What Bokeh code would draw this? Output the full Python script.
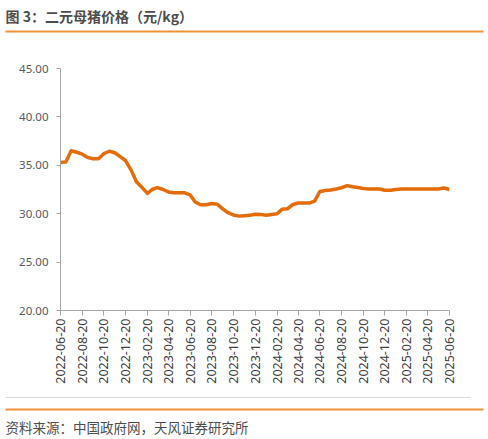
import math
import pandas as pd
from bokeh.plotting import figure
from bokeh.layouts import column, row
from bokeh.models import Range1d, FixedTicker, DatetimeTickFormatter, NumeralTickFormatter
from bokeh.core.properties import value
from bokeh.embed import file_html
from bokeh.resources import INLINE

# data: semi-monthly (5th / 20th) price of binary sows, yuan/kg
TITLE = "图 3：二元母猪价格（元/kg）"
SOURCE = "资料来源：中国政府网，天风证券研究所"
START = "2022-06-20"
END = "2025-06-20"

VALUES = [
    35.30, 35.35, 36.50, 36.35, 36.15, 35.80, 35.67, 35.67, 36.20, 36.45,
    36.30, 35.90, 35.50, 34.50, 33.30, 32.70, 32.10, 32.50, 32.70, 32.50,
    32.25, 32.16, 32.16, 32.16, 31.95, 31.19, 30.92, 30.92, 31.05, 30.98,
    30.50, 30.10, 29.87, 29.75, 29.80, 29.83, 29.95, 29.93, 29.85, 29.92,
    29.99, 30.45, 30.50, 30.95, 31.10, 31.10, 31.10, 31.30, 32.30, 32.40,
    32.45, 32.55, 32.68, 32.90, 32.78, 32.70, 32.60, 32.55, 32.55, 32.55,
    32.43, 32.43, 32.50, 32.55, 32.55, 32.55, 32.55, 32.55, 32.55, 32.55,
    32.55, 32.65, 32.50,
]

TICK_LABELS = [
    "2022-06-20", "2022-08-20", "2022-10-20", "2022-12-20", "2023-02-20",
    "2023-04-20", "2023-06-20", "2023-08-20", "2023-10-20", "2023-12-20",
    "2024-02-20", "2024-04-20", "2024-06-20", "2024-08-20", "2024-10-20",
    "2024-12-20", "2025-02-20", "2025-04-20", "2025-06-20",
]
Y_TICKS = [20, 25, 30, 35, 40, 45]

# dates of the observations: 5th and 20th of each month
dates = []
for yr in range(2022, 2026):
    for mo in range(1, 13):
        for d in (5, 20):
            t = pd.Timestamp(yr, mo, d)
            if pd.Timestamp(START) <= t <= pd.Timestamp(END):
                dates.append(t)

CJK = "Noto Sans CJK SC"
W = 488
ORANGE = "#F0913A"


def blank(h):
    f = figure(width=W, height=h, x_range=Range1d(0, W), y_range=Range1d(h, 0),
               toolbar_location=None, output_backend="svg", x_axis_location=None,
               y_axis_location=None, min_border=0, outline_line_color=None)
    f.title.visible = False
    f.grid.visible = False
    return f


# header
top = blank(40)
top.text(x=[5], y=[15], text=[TITLE], text_font=value(CJK), text_font_size="14px",
         text_font_style="bold", text_color="#4D4D4D", text_baseline="middle")
top.segment(x0=[5], y0=[31], x1=[483], y1=[31], line_color=ORANGE, line_width=2)

# chart
p = figure(width=W, height=350, x_axis_type="datetime",
           x_range=Range1d(pd.Timestamp(START), pd.Timestamp(END)),
           y_range=Range1d(20, 45), toolbar_location=None, output_backend="svg",
           min_border_left=60, min_border_right=39, min_border_top=28,
           min_border_bottom=80, outline_line_color=None)
p.title.visible = False
p.line(x=dates, y=VALUES, line_color="#E46C0A", line_width=3.5, line_join="round")

p.xgrid.visible = False
p.ygrid.visible = False

p.yaxis.ticker = FixedTicker(ticks=Y_TICKS, minor_ticks=[])
p.yaxis.formatter = NumeralTickFormatter(format="0.00")
p.xaxis.ticker = FixedTicker(ticks=[pd.Timestamp(s).timestamp() * 1000 for s in TICK_LABELS],
                             minor_ticks=[])
fmt = "%Y-%m-%d"
p.xaxis.formatter = DatetimeTickFormatter(days=fmt, months=fmt, years=fmt, hours=fmt,
                                          minutes=fmt, seconds=fmt)
p.xaxis.major_label_orientation = math.pi / 2

for ax in (p.xaxis, p.yaxis):
    ax.axis_line_color = "#A6A6A6"
    ax.major_tick_line_color = "#A6A6A6"
    ax.major_tick_in = 0
    ax.major_label_text_font = "Noto Sans"
p.xaxis.major_label_text_color = "#404040"
p.yaxis.major_label_text_color = "#595959"
p.xaxis.major_tick_out = 5
p.xaxis.major_label_standoff = 3
p.xaxis.major_label_text_font_size = "12.5px"
p.yaxis.major_tick_out = 4
p.yaxis.major_label_standoff = 8
p.yaxis.major_label_text_font_size = "11.5px"

# footer
bot = blank(49)
bot.segment(x0=[5], y0=[7], x1=[470], y1=[7], line_color="#D9D9D9", line_width=1)
bot.segment(x0=[5], y0=[19], x1=[483], y1=[19], line_color=ORANGE, line_width=2)
bot.text(x=[5], y=[36.5], text=[SOURCE], text_font=value(CJK), text_font_size="13.5px",
         text_color="#4D4D4D", text_baseline="middle")

layout = column(row(top), row(p), row(bot), spacing=0)
open("out.html", "w", encoding="utf-8").write(file_html(layout, INLINE))
